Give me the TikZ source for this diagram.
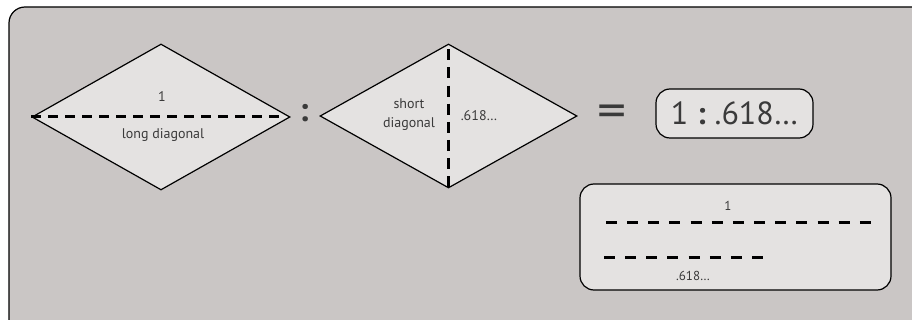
\documentclass[tikz,border=0pt]{standalone}
\usepackage{fontspec}
\setmainfont{PT Sans}
\usetikzlibrary{shapes.geometric}

\definecolor{panel}{HTML}{CAC6C5}
\definecolor{lightfill}{HTML}{E4E2E1}
\definecolor{ink}{HTML}{3A3A3A}

\begin{document}
\begin{tikzpicture}[x=1pt,y=-1pt]
\tikzstyle{rhomb}=[diamond, draw, fill=lightfill, line width=1.2pt, inner sep=0pt]
\tikzstyle{lbl}=[text=ink, inner sep=0pt, font=\fontsize{14}{19}\selectfont, align=center]
\tikzstyle{dline}=[line width=3pt, dash pattern=on 10pt off 7pt]
\tikzstyle{pill}=[draw, fill=lightfill, line width=1.2pt, rounded corners=14pt]

\useasboundingbox (0,0) rectangle (912,320);
\clip (0,0) rectangle (912,320);
\draw[fill=panel, line width=1.2pt, rounded corners=16pt] (9,7) rectangle (940,340);

% the two rhombi
\node[rhomb, minimum width=258pt, minimum height=146pt] (long) at (161,117) {};
\node[rhomb, minimum width=257pt, minimum height=144pt] (short) at (448.5,116) {};

\draw[dline] (long.west) -- ([xshift=-9pt]long.east);
\draw[dline, dash pattern=on 11pt off 7.1pt] ([yshift=-6pt]short.north) -- (short.south);

\node[lbl] (one) at (162,97) {1};
\node[lbl] (longlbl) at (163,135) {long diagonal};
\node[lbl] (shortlbl) at (409,115) {short\\diagonal};
\node[lbl] (phi) at (479,116) {.618…};

\node[text=ink, font=\fontsize{34}{34}\selectfont\bfseries] (colon) at (304,113) {:};
\node[text=ink, font=\fontsize{34}{34}\selectfont] (eq) at (612,116) {\scalebox{1.7}[1.45]{=}};

% the ratio
\node[pill, text=ink, font=\fontsize{32}{32}\selectfont, minimum width=157pt, minimum height=49pt, inner sep=0pt] (ratio) at (734.5,113.5) {1\;\textbf{:}\;.618…};

% the two lengths
\node[pill, minimum width=311pt, minimum height=106pt] (lengths) at (735.5,237) {};
\coordinate (a1) at (606,223);
\coordinate (a2) at (871,223);
\coordinate (b1) at (604,257);
\coordinate (b2) at (763,257);
\draw[dline, dash pattern=on 11pt off 10.15pt] (a1) -- (a2);
\draw[dline, dash pattern=on 11pt off 10.15pt] (b1) -- (b2);
\node[lbl, font=\fontsize{13}{13}\selectfont] (unit) at (728,206) {1};
\node[lbl, font=\fontsize{13}{13}\selectfont] (part) at (693,276) {.618…};

\end{tikzpicture}
\end{document}
